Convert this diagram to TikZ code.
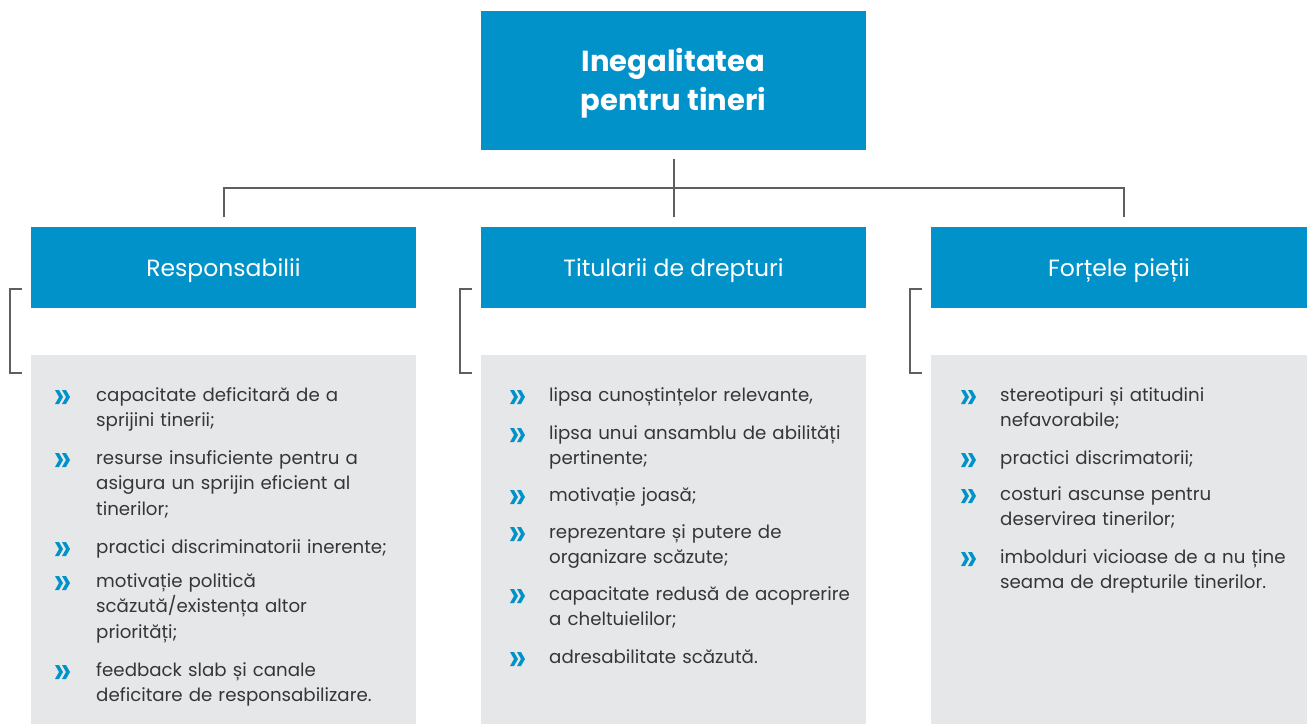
\documentclass[tikz,border=0pt]{standalone}
\usepackage{fontspec}
\setmainfont{Poppins}
\hyphenpenalty=10000
\exhyphenpenalty=10000
\definecolor{cblue}{HTML}{0092C8}
\definecolor{cgray}{HTML}{E6E7E8}
\definecolor{cline}{HTML}{5F5F5F}
\definecolor{ctext}{HTML}{363636}
\begin{document}
\begin{tikzpicture}[x=1pt,y=-1pt,
  titlebox/.style={fill=cblue,draw=none,minimum width=385pt,minimum height=139pt,inner sep=0pt},
  titletext/.style={inner sep=0pt,text=white,align=center,font=\fontsize{29}{39}\selectfont\bfseries},
  headbox/.style={fill=cblue,draw=none,minimum height=81pt,inner sep=0pt,text=white,text height=22pt,text depth=4pt,font=\fontsize{23.5}{26}\selectfont},
  graybox/.style={fill=cgray,draw=none,inner sep=0pt},
  item/.style={anchor=base west,inner sep=0pt,text width=400pt,align=left,text=ctext,font=\fontsize{18.2}{25.7}\selectfont},
  conn/.style={draw=cline,line width=2pt},
  chev/.pic={\fill[cblue] (0,-7) -- (4,-7) -- (8,0) -- (4,7) -- (0,7) -- (4,0) -- cycle;
             \fill[cblue] (7,-7) -- (11,-7) -- (15,0) -- (11,7) -- (7,7) -- (11,0) -- cycle;}]
\useasboundingbox (0,0) rectangle (1307,724);
% title
\node[titlebox] (title) at (673.5,80.5) {};
\node[titletext] (tt) at (673.5,83) {Inegalitatea\\pentru tineri};
% gray panels
\node[graybox,minimum width=385pt,minimum height=369pt,anchor=north west] (g1) at (31,355) {};
\node[graybox,minimum width=385pt,minimum height=369pt,anchor=north west] (g2) at (481,355) {};
\node[graybox,minimum width=376pt,minimum height=369pt,anchor=north west] (g3) at (931,355) {};
% headers
\node[headbox,minimum width=385pt] (h1) at (223.5,267.5) {Responsabilii};
\node[headbox,minimum width=385pt] (h2) at (673.5,267.5) {Titularii de drepturi};
\node[headbox,minimum width=376pt] (h3) at (1119,267.5) {Forțele pieții};
% connectors
\coordinate (top) at (674,159);
\coordinate (mid) at (674,188);
\coordinate (l) at (224,188);
\coordinate (r) at (1124,188);
\coordinate (lb) at (224,217);
\coordinate (mb) at (674,217);
\coordinate (rb) at (1124,217);
\draw[conn] (top) -- (mb);
\draw[conn] (lb) -- (l) -- (r) -- (rb);
% brackets
\foreach \x/\n in {22/a,472/b,922/c}{
  \coordinate (bt\n) at (\x,289);
  \coordinate (bb\n) at (\x,373);
  \draw[conn] (bt\n) -- ++(-12,0) |- (bb\n);
}
% column 1
\foreach \y in {397,460,549,583,672}{\pic at (55,\y) {chev};}
\node[item] (a1) at (96,401) {capacitate deficitară de a\\sprijini tinerii;};
\node[item] (a2) at (96,464) {resurse insuficiente pentru a\\asigura un sprijin eficient al\\tinerilor;};
\node[item] (a3) at (96,553) {practici discriminatorii inerente;};
\node[item] (a4) at (96,587) {motivație politică\\scăzută/existența altor\\priorități;};
\node[item] (a5) at (96,676) {feedback slab și canale\\deficitare de responsabilizare.};
% column 2
\foreach \y in {397,435,497,534,596,659}{\pic at (510,\y) {chev};}
\node[item] (b1) at (549,401) {lipsa cunoștințelor relevante,};
\node[item] (b2) at (549,439) {lipsa unui ansamblu de abilități\\pertinente;};
\node[item] (b3) at (549,501) {motivație joasă;};
\node[item] (b4) at (549,538) {reprezentare și putere de\\organizare scăzute;};
\node[item] (b5) at (549,600) {capacitate redusă de acoprerire\\a cheltuielilor;};
\node[item] (b6) at (549,663) {adresabilitate scăzută.};
% column 3
\foreach \y in {397,460,496,559}{\pic at (961,\y) {chev};}
\node[item] (c1) at (1000,401) {stereotipuri și atitudini\\nefavorabile;};
\node[item] (c2) at (1000,464) {practici discrimatorii;};
\node[item] (c3) at (1000,500) {costuri ascunse pentru\\deservirea tinerilor;};
\node[item] (c4) at (1000,563) {imbolduri vicioase de a nu ține\\seama de drepturile tinerilor.};
\end{tikzpicture}
\end{document}
